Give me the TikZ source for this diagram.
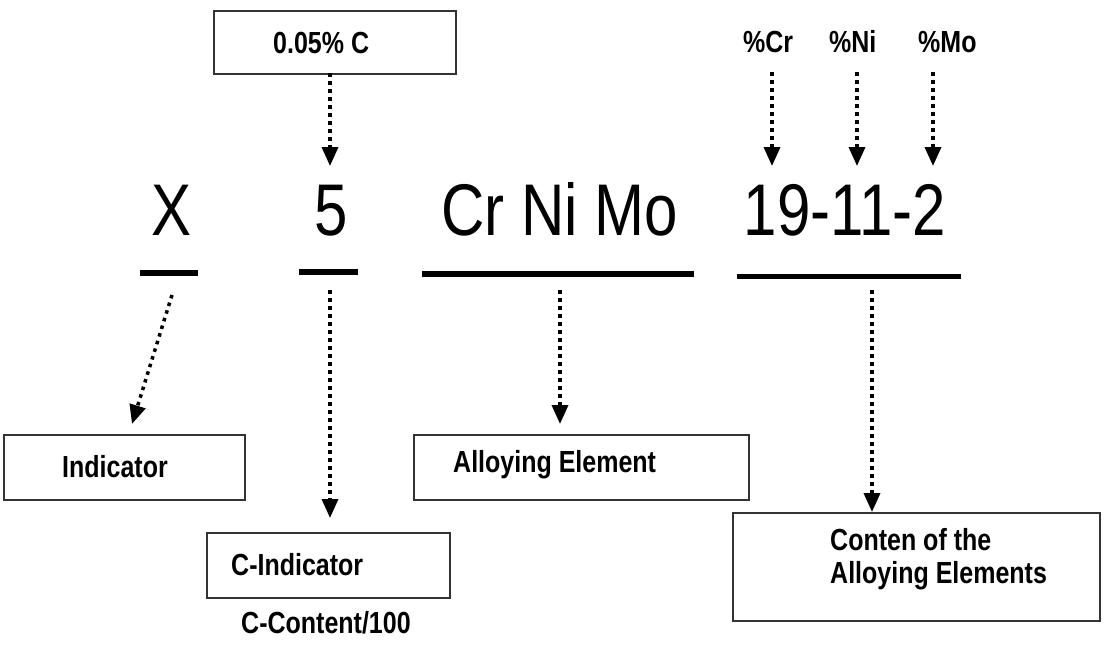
\documentclass[tikz,border=0pt]{standalone}
\usepackage{fontspec}
\setmainfont{Liberation Sans}
\usetikzlibrary{arrows.meta}
\newcommand\vst[1]{\scalebox{1}[1.22]{#1}}
\begin{document}
\begin{tikzpicture}[x=1pt,y=-1pt,
  box/.style={draw=black!80, line width=2pt, fill=white, inner sep=0pt, anchor=north west},
  lbl/.style={inner sep=0pt, anchor=base west, font=\bfseries\fontsize{25}{30}\selectfont},
  big/.style={inner sep=0pt, anchor=base, font=\fontsize{60}{72}\selectfont},
  uline/.style={fill=black, draw=none, inner sep=0pt, minimum height=6pt},
  darr/.style={line width=3.5pt, dash pattern=on 3.5pt off 4.5pt, -{Triangle[width=16pt,length=19pt]}}]
\useasboundingbox (0,0) rectangle (1106,654);
\fill[white] (0,0) rectangle (1106,654);

% boxes
\node[box, minimum width=242pt, minimum height=63pt] (top) at (213,10) {};
\node[box, minimum width=241pt, minimum height=65pt] (ind) at (3,434) {};
\node[box, minimum width=243pt, minimum height=65pt] (cind) at (206,532) {};
\node[box, minimum width=335pt, minimum height=65pt] (alloy) at (413,434) {};
\node[box, minimum width=367pt, minimum height=108pt] (cont) at (732,512) {};

% box texts
\node[lbl] (ttop) at (273,53) {\vst{0.05\% C}};
\node[lbl] (tind) at (62,477) {\vst{Indicator}};
\node[lbl] (tcind) at (231,575) {\vst{C-Indicator}};
\node[lbl] (tcc) at (241,633) {\vst{C-Content/100}};
\node[lbl] (talloy) at (453,472) {\vst{Alloying Element}};
\node[lbl] (tcont1) at (830,550) {\vst{Conten of the}};
\node[lbl] (tcont2) at (830,583) {\vst{Alloying Elements}};

% top labels
\node[lbl] (lcr) at (743,52) {\vst{\%Cr}};
\node[lbl] (lni) at (829,52) {\vst{\%Ni}};
\node[lbl] (lmo) at (918,52) {\vst{\%Mo}};

% big designation
\node[big] (bx) at (172,235) {\vst{X}};
\node[big] (b5) at (331,235) {\vst{5}};
\node[big] (bcr) at (560,235) {\vst{Cr Ni Mo}};
\node[big] (b19) at (845,235) {\vst{19-11-2}};

% underlines
\node[uline, minimum width=58pt] (ux) at (169,273) {};
\node[uline, minimum width=59pt] (u5) at (328.5,272) {};
\node[uline, minimum width=272pt] (ucr) at (558,274) {};
\node[uline, minimum width=224pt, minimum height=5pt] (u19) at (849,276) {};

% connector ends
\coordinate (s5top) at (330,73);
\coordinate (e5top) at (330,166);
\coordinate (scr) at (772,72);
\coordinate (ecr) at (772,166);
\coordinate (sni) at (857,72);
\coordinate (eni) at (857,166);
\coordinate (smo) at (933,72);
\coordinate (emo) at (933,166);
\coordinate (sx) at (172,295);
\coordinate (ex) at (132,424);
\coordinate (s5) at (330,290);
\coordinate (e5) at (330,518);
\coordinate (sal) at (560,290);
\coordinate (eal) at (560,424);
\coordinate (s19) at (872,290);
\coordinate (e19) at (872,512);

% connectors
\draw[darr] (s5top) -- (e5top);
\draw[darr] (scr) -- (ecr);
\draw[darr] (sni) -- (eni);
\draw[darr] (smo) -- (emo);
\draw[darr] (sx) -- (ex);
\draw[darr] (s5) -- (e5);
\draw[darr] (sal) -- (eal);
\draw[darr] (s19) -- (e19);
\end{tikzpicture}
\end{document}
